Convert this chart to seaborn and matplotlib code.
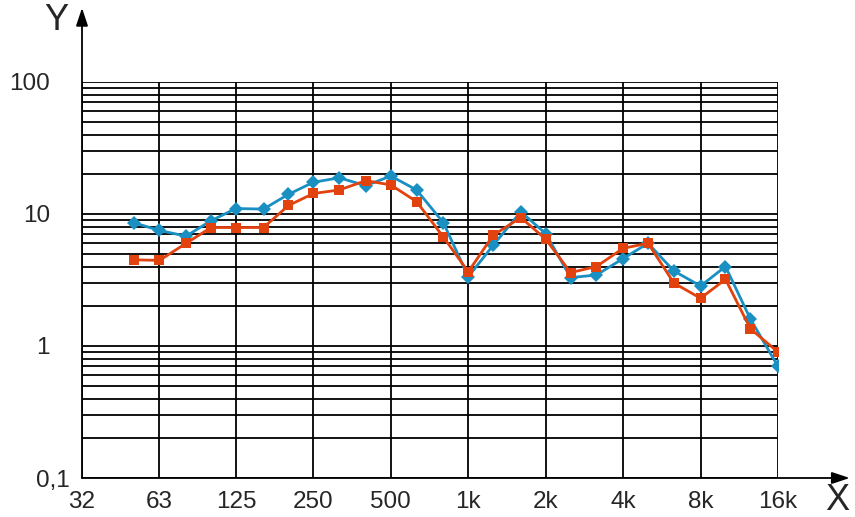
import pandas as pd
import matplotlib
matplotlib.use("Agg")
import matplotlib.pyplot as plt
import matplotlib.transforms as mtransforms
import seaborn as sns

# ------------------------------
# Data (third-octave bands)
# ------------------------------
freqs = [50, 63, 80, 100, 125, 160, 200, 250, 315, 400, 500, 630, 800,
         1000, 1250, 1600, 2000, 2500, 3150, 4000, 5000, 6300, 8000,
         10000, 12500, 16000]
blue_vals = [8.6, 7.5, 6.8, 8.9, 11.0, 10.9, 14.1, 17.4, 18.8, 16.4, 19.4, 15.2, 8.6,
             3.35, 5.8, 10.4, 7.1, 3.3, 3.45, 4.6, 6.0, 3.7, 2.85,
             4.0, 1.6, 0.7]
red_vals = [4.5, 4.45, 6.0, 7.9, 7.9, 7.9, 11.6, 14.3, 15.2, 17.9, 16.6, 12.4, 6.7,
            3.65, 6.9, 9.4, 6.45, 3.6, 4.0, 5.5, 6.0, 3.0, 2.3,
            3.2, 1.35, 0.9]

x_ticks = [31.5, 63, 125, 250, 500, 1000, 2000, 4000, 8000, 16000]
x_labels = ["32", "63", "125", "250", "500", "1k", "2k", "4k", "8k", "16k"]
y_ticks = [0.1, 1, 10, 100]
y_labels = ["0,1", "1", "10", "100"]

df = pd.DataFrame({
    "freq": freqs * 2,
    "value": blue_vals + red_vals,
    "series": ["blue"] * len(freqs) + ["red"] * len(freqs),
})

# ------------------------------
# Figure
# ------------------------------
sns.set_style("white")
plt.rcParams["font.family"] = ["Liberation Sans", "DejaVu Sans"]

fig = plt.figure(figsize=(8.55, 5.17), dpi=100)
ax = fig.add_axes([82 / 855, 39 / 517, 696 / 855, 396 / 517])

sns.lineplot(data=df, x="freq", y="value", hue="series", style="series",
             markers={"blue": "D", "red": "s"}, dashes=False,
             palette={"blue": "#1a8fc2", "red": "#e2420e"},
             markersize=7, markeredgewidth=0, linewidth=2,
             legend=False, ax=ax, zorder=5)

ax.set_xscale("log")
ax.set_yscale("log")
ax.set_xlim(31.5, 16000)
ax.set_ylim(0.1, 100)

ax.set_xticks(x_ticks)
ax.set_xticklabels(x_labels)
ax.xaxis.set_minor_locator(matplotlib.ticker.NullLocator())
ax.set_yticks(y_ticks)
ax.set_yticklabels(y_labels)
ax.yaxis.set_minor_locator(matplotlib.ticker.LogLocator(base=10, subs=range(2, 10)))
ax.yaxis.set_minor_formatter(matplotlib.ticker.NullFormatter())

ax.grid(True, which="major", axis="x", color="black", linewidth=1.3)
ax.grid(True, which="both", axis="y", color="black", linewidth=1.3)
ax.tick_params(axis="both", which="both", length=0, labelsize=17.5)
ax.tick_params(axis="y", pad=23)
ax.tick_params(axis="x", pad=9)
ax.set_xlabel("")
ax.set_ylabel("")
for s in ax.spines.values():
    s.set_visible(False)

# nudge the "0,1" label closer to the axis
lab = ax.yaxis.get_major_ticks()[0].label1
lab.set_transform(lab.get_transform() + mtransforms.ScaledTranslation(0.2, 0, fig.dpi_scale_trans))

# axis arrows
arrow = dict(arrowstyle="-|>,head_length=0.6,head_width=0.2", color="black",
             lw=1.3, shrinkA=0, shrinkB=0, mutation_scale=18)
ax.annotate("", xy=(1.103, 0), xytext=(0, 0), xycoords="axes fraction",
            arrowprops=arrow, annotation_clip=False)
ax.annotate("", xy=(0, 1.187), xytext=(0, 0), xycoords="axes fraction",
            arrowprops=arrow, annotation_clip=False)

fig.text(56 / 855, 1 - 20 / 517, "Y", fontsize=26, ha="center", va="center")
fig.text(837 / 855, 1 - 501 / 517, "X", fontsize=26, ha="center", va="center")

plt.savefig("out.png", dpi=100)
